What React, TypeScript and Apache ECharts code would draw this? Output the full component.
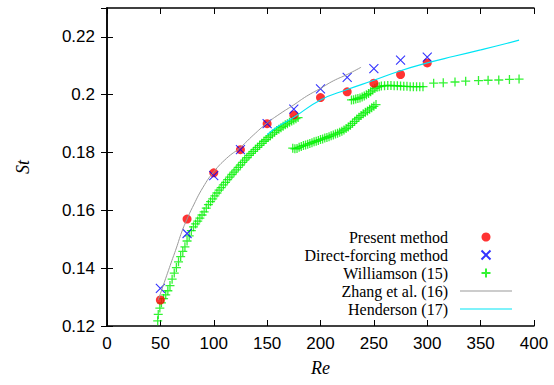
import React, { useEffect, useRef } from 'react';
import * as echarts from 'echarts';

const xTicks = [0, 400, 50];
const yTicks = [0.12, 0.23, 0.02];

const presentRe = [50, 75, 100, 125, 150, 175, 200, 225, 250, 275, 300];
const presentSt = [0.129, 0.157, 0.173, 0.181, 0.190, 0.193, 0.199, 0.201, 0.204, 0.207, 0.211];

const directRe = [50, 75, 100, 125, 150, 175, 200, 225, 250, 275, 300];
const directSt = [0.133, 0.152, 0.172, 0.181, 0.190, 0.195, 0.202, 0.206, 0.209, 0.212, 0.213];

const williamsonRe = [
  47.5, 48, 49.5, 51, 53, 55, 57, 59, 61, 63, 65, 67, 69, 71, 73, 75, 77, 79, 81, 83, 85, 87, 89, 91, 93, 95, 97, 99,
  101, 103, 105, 107, 109, 111, 113, 115, 117, 119, 121, 123, 125, 127, 129, 131, 133, 135, 137, 139, 141, 143, 145,
  147, 149, 151, 153, 155, 157, 159, 161, 163, 165, 167, 169, 171, 173, 175, 177, 179,
  174, 176, 178, 180, 182, 184, 186, 188, 190, 192, 194, 196, 198, 200, 202, 204, 206, 208, 210, 212, 214, 216, 218,
  220, 222, 224, 226, 228, 230, 232, 234, 236, 238, 240, 242, 244, 246, 248, 250, 252,
  229, 231, 233, 235, 237, 239, 241, 243, 245, 247, 249, 251, 253, 255, 257, 260, 263, 266, 269, 272, 275, 278, 281,
  284, 287, 290, 293, 296, 306, 315, 326, 336, 348, 357, 367, 377, 386,
];
const williamsonSt = [
  0.1218, 0.124, 0.1262, 0.128, 0.1295, 0.1308, 0.1322, 0.134, 0.1362, 0.1383, 0.1402, 0.1422, 0.144, 0.1458, 0.1474,
  0.1494, 0.1512, 0.153, 0.1543, 0.1553, 0.1563, 0.1573, 0.1584, 0.1595, 0.1608, 0.162, 0.163, 0.164,
  0.165, 0.166, 0.167, 0.1679, 0.1688, 0.1697, 0.1706, 0.1715, 0.1724, 0.1732, 0.174, 0.1749, 0.1757, 0.1766, 0.1774,
  0.1782, 0.179, 0.1797, 0.1804, 0.1811, 0.1818, 0.1825, 0.1832, 0.1839, 0.1845, 0.1852, 0.1858, 0.1864, 0.187,
  0.1876, 0.1881, 0.1886, 0.1891, 0.1896, 0.19, 0.1905, 0.1909, 0.1913, 0.1917, 0.1921,
  0.1815, 0.1813, 0.1814, 0.1818, 0.1821, 0.1824, 0.1826, 0.1829, 0.1831, 0.1834, 0.1837, 0.1839, 0.1842, 0.1845,
  0.1847, 0.185, 0.1852, 0.1855, 0.1858, 0.1861, 0.1864, 0.1867, 0.187, 0.1874, 0.1878, 0.1883, 0.1888, 0.1894,
  0.1901, 0.1908, 0.1916, 0.1922, 0.1928, 0.1934, 0.1939, 0.1944, 0.195, 0.1955, 0.196, 0.1966,
  0.1982, 0.1983, 0.1985, 0.1987, 0.1989, 0.1992, 0.1996, 0.2, 0.2004, 0.201, 0.2016, 0.2022, 0.2026, 0.2028, 0.203,
  0.2031, 0.2032, 0.2032, 0.2031, 0.2031, 0.203, 0.2029, 0.2029, 0.2028, 0.2028, 0.2028, 0.2028, 0.2028,
  0.204, 0.2041, 0.2044, 0.2047, 0.2049, 0.205, 0.2051, 0.2053, 0.2054,
];

const zhangRe = [48, 55, 60, 65, 70, 75, 80, 90, 100, 112, 125, 137, 150, 162, 175, 187, 200, 212, 225, 238];
const zhangSt = [0.129, 0.1365, 0.1418, 0.147, 0.1525, 0.157, 0.161, 0.168, 0.1733, 0.178, 0.1818, 0.186, 0.1902,
  0.1934, 0.1965, 0.1995, 0.2022, 0.2048, 0.207, 0.2095];

const hendersonRe = [150, 160, 175, 200, 225, 250, 275, 300, 325, 350, 375, 386];
const hendersonSt = [0.1862, 0.189, 0.1922, 0.1982, 0.2018, 0.205, 0.2083, 0.211, 0.2133, 0.2155, 0.2178, 0.2189];

const legendNames = ['Present method', 'Direct-forcing method', 'Williamson (15)', 'Zhang et al. (16)', 'Henderson (17)'];

const zip = (a: number[], b: number[]) => a.map((v, i) => [v, b[i]]);

const X_PATH = 'path://M0,0L10,10M10,0L0,10';
const PLUS_PATH = 'path://M5,0L5,10M0,5L10,5';
const LINE_ICON = 'path://M0,0L104,0L104,2L0,2Z';

export default function App() {
  const ref = useRef<HTMLDivElement>(null);
  useEffect(() => {
    if (!ref.current) return;
    const chart = echarts.init(ref.current, undefined, { renderer: 'svg' });
    const axisLine = { show: true, lineStyle: { color: '#000', width: 1.5 } };
    const tick = { show: true, inside: true, length: 6, lineStyle: { color: '#000', width: 1 } };
    const labelFont = { fontFamily: 'Liberation Sans', fontSize: 17, color: '#000' };
    chart.setOption({
      animation: false,
      backgroundColor: '#fff',
      grid: { left: 107, right: 20, top: 8, bottom: 59, containLabel: false },
      xAxis: [
        {
          type: 'value', min: xTicks[0], max: xTicks[1], interval: xTicks[2],
          axisLine, axisTick: tick, splitLine: { show: false },
          axisLabel: { ...labelFont, margin: 9 },
          name: 'Re', nameLocation: 'middle', nameGap: 33,
          nameTextStyle: { fontFamily: 'Liberation Serif', fontStyle: 'italic', fontSize: 18, color: '#000' },
        },
        {
          type: 'value', position: 'top', min: xTicks[0], max: xTicks[1], interval: xTicks[2],
          axisLine, axisTick: tick, splitLine: { show: false }, axisLabel: { show: false },
        },
      ],
      yAxis: [
        {
          type: 'value', min: yTicks[0], max: yTicks[1], interval: yTicks[2],
          axisLine, axisTick: tick, splitLine: { show: false },
          axisLabel: {
            ...labelFont, margin: 12, showMaxLabel: false,
            formatter: (v: number) => (Math.abs(v - 0.23) < 1e-9 ? '' : String(+v.toFixed(2))),
          },
          name: 'St', nameLocation: 'middle', nameGap: 75,
          nameTextStyle: { fontFamily: 'Liberation Serif', fontStyle: 'italic', fontSize: 18, color: '#000' },
        },
        {
          type: 'value', position: 'right', min: yTicks[0], max: yTicks[1], interval: yTicks[2],
          axisLine, axisTick: tick, splitLine: { show: false }, axisLabel: { show: false },
        },
      ],
      legend: {
        orient: 'vertical', align: 'right', right: 42, top: 228, padding: 0,
        itemWidth: 52, itemHeight: 9, itemGap: 0, selectedMode: false,
        textStyle: { fontFamily: 'Liberation Serif', fontSize: 16, lineHeight: 18, color: '#000', padding: [0, 7, 0, 0] },
        data: [
          { name: legendNames[0] },
          { name: legendNames[1] },
          { name: legendNames[2] },
          { name: legendNames[3], icon: LINE_ICON },
          { name: legendNames[4], icon: LINE_ICON },
        ],
      },
      series: [
        {
          name: legendNames[2], type: 'scatter', data: zip(williamsonRe, williamsonSt),
          symbol: PLUS_PATH, symbolSize: 9,
          itemStyle: { color: 'rgba(0,0,0,0)', borderColor: '#00f000', borderWidth: 1.3 },
        },
        {
          name: legendNames[3], type: 'line', data: zip(zhangRe, zhangSt), smooth: true, symbol: 'none',
          lineStyle: { color: '#999999', width: 1 }, itemStyle: { color: '#999999' },
        },
        {
          name: legendNames[4], type: 'line', data: zip(hendersonRe, hendersonSt), smooth: true, symbol: 'none',
          lineStyle: { color: '#00e5f5', width: 1.2 }, itemStyle: { color: '#00e5f5' },
        },
        {
          name: legendNames[0], type: 'scatter', data: zip(presentRe, presentSt),
          symbol: 'circle', symbolSize: 9, itemStyle: { color: '#ff0000' },
        },
        {
          name: legendNames[1], type: 'scatter', data: zip(directRe, directSt),
          symbol: X_PATH, symbolSize: 9,
          itemStyle: { color: 'rgba(0,0,0,0)', borderColor: '#0000ff', borderWidth: 1.1 },
        },
      ],
    });
    return () => chart.dispose();
  }, []);
  return <div ref={ref} style={{ width: 554, height: 385, position: 'absolute', left: 0, top: 0 }} />;
}
